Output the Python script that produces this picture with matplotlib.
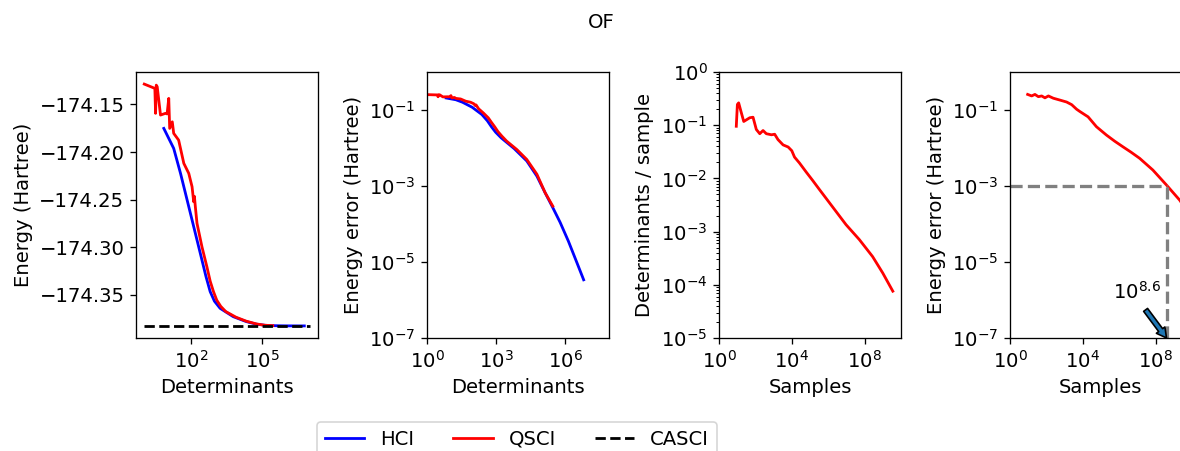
import numpy as np
import matplotlib
matplotlib.use("Agg")
import matplotlib.pyplot as plt
from matplotlib.ticker import NullLocator, LogLocator

plt.rcParams['font.size'] = 12

# exact (CASCI) energy, Hartree
e_casci = -174.3825
casci_max_dets = 1.07e7

# HCI: log10(determinants), energy error (Hartree)
hci_logdet = [0.83, 1.25, 1.54, 1.96, 2.38, 2.62, 2.80, 2.98, 3.22, 3.78, 4.33,
              4.77, 5.13, 5.46, 5.78, 6.14, 6.51, 6.80]
hci_err = [0.2073, 0.1863, 0.1601, 0.1182, 0.0762, 0.0520, 0.0360, 0.0260, 0.0185,
           0.0097, 0.00457, 0.00182, 6.6e-4, 2.7e-4, 1.1e-4, 3.5e-5, 9.5e-6, 3.4e-6]

# QSCI: log10(determinants), energy error (Hartree)
qsci_logdet = [0.00, 0.45, 0.48, 0.51, 0.55, 0.69, 0.90, 0.97, 1.04, 1.08, 1.19,
               1.25, 1.46, 1.68, 1.89, 2.03, 2.10, 2.13, 2.17, 2.24, 2.45, 2.66,
               2.80, 2.94, 3.08, 3.25, 3.46, 3.90, 4.33, 4.77, 5.13, 5.46]
qsci_err = [0.2538, 0.2493, 0.2231, 0.2527, 0.2510, 0.2213, 0.2231, 0.2225, 0.2388,
            0.2073, 0.2142, 0.2021, 0.1950, 0.1706, 0.1601, 0.1461, 0.1303, 0.1360,
            0.1250, 0.1077, 0.0831, 0.0621, 0.0470, 0.0360, 0.0270, 0.0205, 0.0151,
            0.0091, 0.0050, 0.00204, 6.6e-4, 2.95e-4]

# QSCI sampling: log10(samples), log10(determinants / sample)
samp_logx = [0.95, 1.01, 1.08, 1.23, 1.36, 1.50, 1.69, 1.87, 2.05, 2.24, 2.42, 2.60,
             2.88, 3.06, 3.24, 3.52, 3.80, 4.00, 4.15, 4.42, 4.79, 5.15, 5.52, 6.25,
             6.98, 7.71, 8.44, 9.00, 9.55]
ratio_logy = [-1.02, -0.61, -0.58, -0.77, -0.93, -0.90, -0.86, -0.85, -1.08, -1.16,
              -1.10, -1.16, -1.18, -1.17, -1.27, -1.37, -1.41, -1.48, -1.60, -1.71,
              -1.88, -2.04, -2.21, -2.54, -2.87, -3.15, -3.47, -3.78, -4.12]

# QSCI sampling: log10(samples), log10(energy error)
err_samp_logx = [0.97, 1.19, 1.37, 1.56, 1.74, 1.92, 2.11, 2.38, 2.75, 3.11, 3.39,
                 3.66, 3.84, 4.29, 4.75, 5.30, 5.75, 6.21, 6.65, 7.12, 7.85, 8.59,
                 9.32, 9.55]
err_samp_logy = [-0.59, -0.63, -0.59, -0.65, -0.63, -0.68, -0.63, -0.69, -0.74, -0.79,
                 -0.86, -0.98, -1.04, -1.18, -1.44, -1.66, -1.82, -1.97, -2.11, -2.27,
                 -2.58, -2.97, -3.37, -3.53]

threshold = 1e-3
log_samples_needed = 8.6

hci_x = 10 ** np.array(hci_logdet)
qsci_x = 10 ** np.array(qsci_logdet)

DPI = 118
W, H = 1180, 451
fig = plt.figure(figsize=(W / DPI, H / DPI), dpi=DPI)

def place(left):
    return fig.add_axes([left / W, 113 / H, 182 / W, 266 / H])

ax1 = place(136)
ax2 = place(427)
ax3 = place(719)
ax4 = place(1010)

lw = 1.7
# panel 1: energy
l_hci, = ax1.plot(hci_x, e_casci + np.array(hci_err), color='blue', lw=lw, label='HCI')
l_qsci, = ax1.plot(qsci_x, e_casci + np.array(qsci_err), color='red', lw=lw, label='QSCI')
l_cas, = ax1.plot([1, casci_max_dets], [e_casci, e_casci], '--', color='black', lw=lw, label='CASCI')
ax1.set_xscale('log')
ax1.set_xticks([1e2, 1e5])
ax1.xaxis.set_minor_locator(NullLocator())
ax1.ticklabel_format(axis='y', useOffset=False)
ax1.set_xlabel('Determinants')
ax1.set_ylabel('Energy (Hartree)')

# panel 2: energy error vs determinants
ax2.plot(hci_x, hci_err, color='blue', lw=lw)
ax2.plot(qsci_x, qsci_err, color='red', lw=lw)
ax2.set_xscale('log')
ax2.set_yscale('log')
ax2.set_xlim(1, 10 ** 7.9)
ax2.set_ylim(1e-7, 1)
ax2.set_xticks([1, 1e3, 1e6])
ax2.set_yticks([1e-1, 1e-3, 1e-5, 1e-7])
ax2.xaxis.set_minor_locator(NullLocator())
ax2.yaxis.set_minor_locator(NullLocator())
ax2.set_xlabel('Determinants')
ax2.set_ylabel('Energy error (Hartree)')

# panel 3: determinants per sample
ax3.plot(10 ** np.array(samp_logx), 10 ** np.array(ratio_logy), color='red', lw=lw)
ax3.set_xscale('log')
ax3.set_yscale('log')
ax3.set_xlim(1, 1e10)
ax3.set_ylim(1e-5, 1)
ax3.set_xticks([1, 1e4, 1e8])
ax3.set_yticks([1e0, 1e-1, 1e-2, 1e-3, 1e-4, 1e-5])
ax3.xaxis.set_minor_locator(NullLocator())
ax3.yaxis.set_minor_locator(LogLocator(base=10, subs=np.arange(2, 10), numticks=20))
ax3.set_xlabel('Samples')
ax3.set_ylabel('Determinants / sample')

# panel 4: energy error vs samples
ax4.plot(10 ** np.array(err_samp_logx), 10 ** np.array(err_samp_logy), color='red', lw=lw)
ax4.set_xscale('log')
ax4.set_yscale('log')
ax4.set_xlim(1, 1e10)
ax4.set_ylim(1e-7, 1)
ax4.set_xticks([1, 1e4, 1e8])
ax4.set_yticks([1e-1, 1e-3, 1e-5, 1e-7])
ax4.xaxis.set_minor_locator(NullLocator())
ax4.yaxis.set_minor_locator(NullLocator())
ax4.set_xlabel('Samples')
ax4.set_ylabel('Energy error (Hartree)')
xs = 10 ** log_samples_needed
ax4.hlines(threshold, 1, xs, colors='gray', linestyles='--', lw=2)
ax4.vlines(xs, 1e-7, threshold, colors='gray', linestyles='--', lw=2)
ax4.annotate('', xy=(xs, 1e-7), xytext=(10 ** 7.45, 10 ** -6.26),
             arrowprops=dict(facecolor='C0', edgecolor='black', shrink=0.0,
                             width=3, headwidth=6.5, headlength=6))
ax4.text(10 ** 5.65, 10 ** -5.97, r'$10^{8.6}$')

fig.text(601 / W, 1 - 22 / H, 'OF', ha='center', va='center', fontsize=12)
fig.legend(handles=[l_hci, l_qsci, l_cas], loc='upper center',
           bbox_to_anchor=(517 / W, 1 - 412 / H), ncol=3,
           columnspacing=2.0, handlelength=2.0)

fig.savefig('out.png', dpi=DPI)
